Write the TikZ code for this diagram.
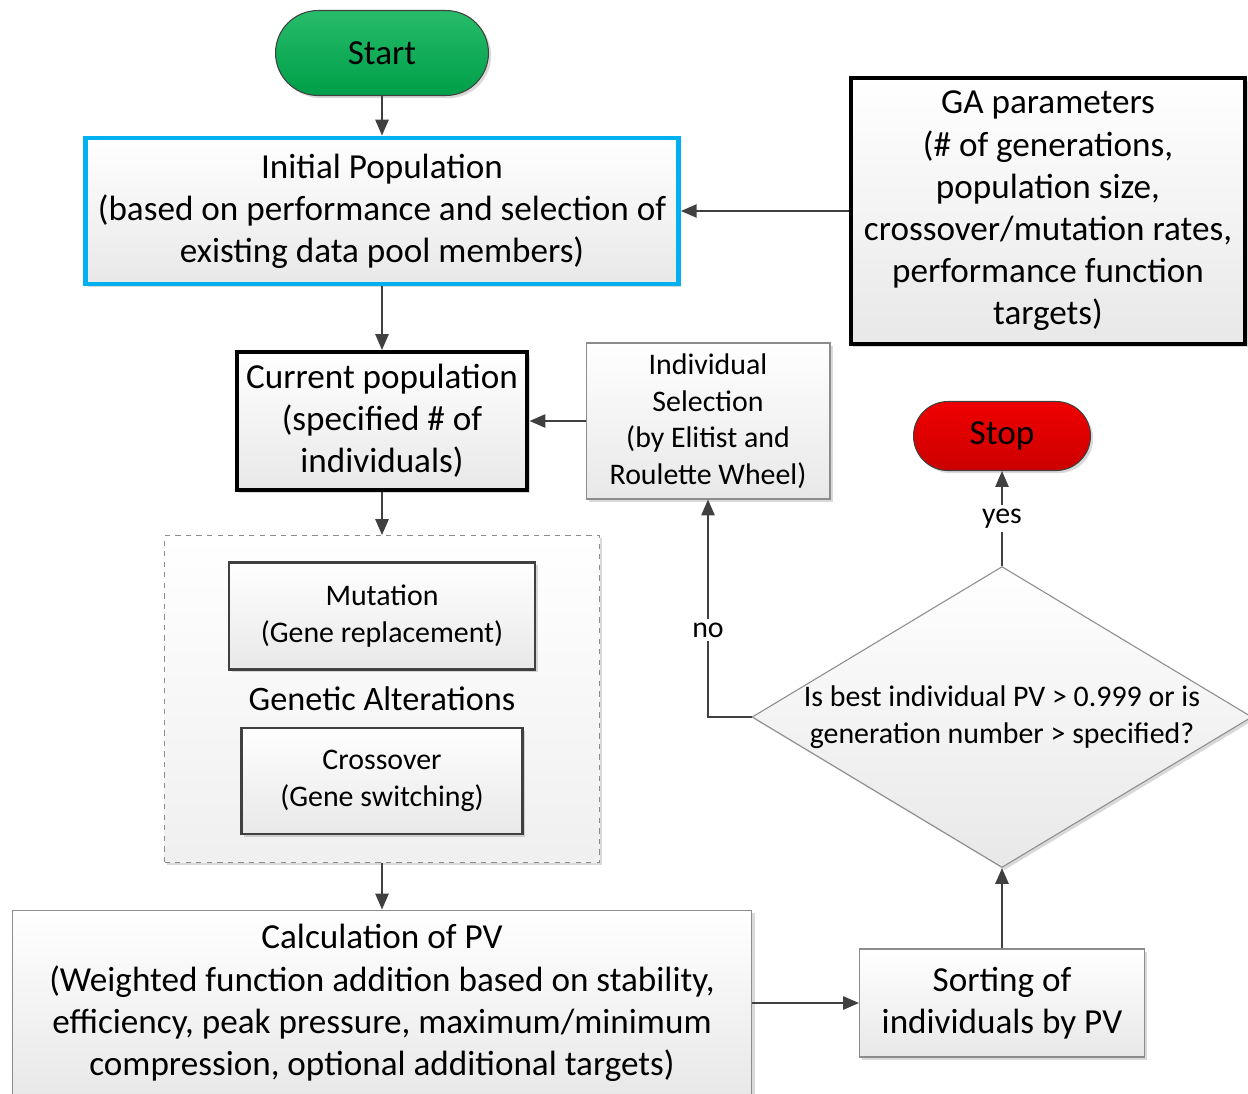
\documentclass[tikz,border=0pt]{standalone}
\usepackage{fontspec}
\setmainfont{Carlito}
\usetikzlibrary{shapes.geometric,shadows,arrows.meta}
\definecolor{startgreen}{HTML}{00B050}
\definecolor{stopred}{HTML}{F00000}
\definecolor{initblue}{HTML}{00B0F0}
\definecolor{linegray}{HTML}{404040}
\definecolor{boxgray}{HTML}{8C8C8C}

\newcommand{\bigtext}{\fontsize{20}{24}\selectfont}
\newcommand{\smalltext}{\fontsize{17}{20.8}\selectfont}

\tikzset{
    box/.style={draw=boxgray, line width=0.6pt, top color=white, bottom color=black!9,
        drop shadow={opacity=0.3, shadow xshift=1.5pt, shadow yshift=-1.5pt},
        align=center, inner sep=0pt},
    boldbox/.style={box, draw=black, line width=2.3pt},
    innerbox/.style={box, draw=linegray, line width=1.4pt, font=\smalltext},
    terminal/.style={draw=linegray, line width=0.6pt, inner sep=0pt, font=\bigtext,
        drop shadow={opacity=0.3, shadow xshift=1.5pt, shadow yshift=-1.5pt}},
    flow/.style={draw=linegray, line width=1.1pt, -{Triangle[length=9pt,width=7.5pt]}},
}

\begin{document}
\begin{tikzpicture}[x=0.02cm, y=-0.02cm]
    \useasboundingbox (0,0) rectangle (1248,1093);

    % start / stop
    \node[terminal, top color=startgreen!85!white, bottom color=startgreen!90!black,
        minimum width=4.26cm, minimum height=1.70cm, rounded corners=0.85cm]
        (start) at (382,53) {Start};
    \node[terminal, top color=stopred, bottom color=stopred!85!black,
        minimum width=3.54cm, minimum height=1.38cm, rounded corners=0.69cm]
        (stop) at (1002,436) {Stop};

    % population boxes
    \node[box, draw=initblue, line width=2.8pt, font=\bigtext,
        minimum width=11.86cm, minimum height=2.92cm]
        (initpop) at (382,211) {Initial Population\\(based on performance and selection of\\existing data pool members)};
    \node[boldbox, font=\bigtext, minimum width=7.9cm, minimum height=5.32cm]
        (gaparams) at (1048,211) {GA parameters\\(\# of generations,\\population size,\\crossover/mutation rates,\\performance function\\targets)};
    \node[boldbox, font=\bigtext, minimum width=5.82cm, minimum height=2.76cm]
        (curpop) at (382,421) {Current population\\(specified \# of\\individuals)};
    \node[box, font=\smalltext, minimum width=4.88cm, minimum height=3.12cm]
        (indsel) at (708,421) {Individual\\Selection\\(by Elitist and\\Roulette Wheel)};

    % genetic alterations group
    \node[box, draw=boxgray, dashed, top color=white, bottom color=black!6,
        minimum width=8.7cm, minimum height=6.54cm]
        (alter) at (382,699) {};
    \node[innerbox, minimum width=6.12cm, minimum height=2.14cm]
        (mutation) at (382,616) {Mutation\\(Gene replacement)};
    \node[font=\fontsize{19.5}{23}\selectfont]
        (altlabel) at (382,699) {Genetic Alterations};
    \node[innerbox, minimum width=5.62cm, minimum height=2.12cm]
        (crossover) at (382,781) {Crossover\\(Gene switching)};

    % evaluation
    \node[box, font=\bigtext, minimum width=14.8cm, minimum height=3.72cm]
        (calcpv) at (382,1003) {Calculation of PV\\(Weighted function addition based on stability,\\efficiency, peak pressure, maximum/minimum\\compression, optional additional targets)};
    \node[box, font=\bigtext, minimum width=5.7cm, minimum height=2.16cm]
        (sorting) at (1002,1003) {Sorting of\\individuals by PV};

    % decision
    \node[box, diamond, minimum width=10cm, minimum height=6.02cm]
        (check) at (1002,717) {};
    \node[font=\smalltext, align=center]
        (checktext) at (1002,717) {Is best individual PV > 0.999 or is\\generation number > specified?};

    % connectors
    \draw[flow] (start) -- (initpop);
    \draw[flow] (initpop) -- (curpop);
    \draw[flow] (gaparams) -- (initpop);
    \draw[flow] (indsel) -- (curpop);
    \draw[flow] (curpop) -- (alter);
    \draw[flow] (alter) -- (calcpv);
    \draw[flow] (calcpv) -- (sorting);
    \draw[flow] (sorting) -- (check);
    \draw[flow] (check) -- node[fill=white, font=\smalltext, inner sep=2pt] (yeslabel) {yes} (stop);
    \draw[flow] (check.west) -| node[pos=0.7, fill=white, font=\smalltext, inner sep=2pt] (nolabel) {no} (indsel);
\end{tikzpicture}
\end{document}
